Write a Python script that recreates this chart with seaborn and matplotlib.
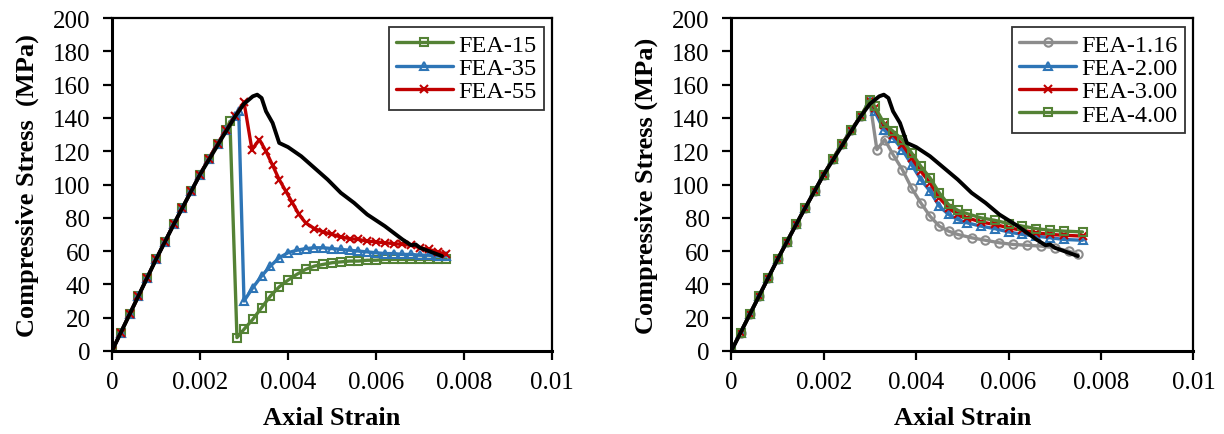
import numpy as np
import pandas as pd
import seaborn as sns
import matplotlib.pyplot as plt

# ---- data ----
# experimental curve (black, shared by both panels)
exp_strain = [0, 0.0005, 0.001, 0.0015, 0.002, 0.0025, 0.0028, 0.003, 0.0032, 0.0033,
              0.0034, 0.0035, 0.00365, 0.0038, 0.004, 0.0043, 0.0046, 0.0049, 0.0052,
              0.0055, 0.0058, 0.0062, 0.0066, 0.0068, 0.0069, 0.0070, 0.0072, 0.0075]
exp_stress = [0, 27.5, 55, 81, 106, 128, 141, 148.5, 153, 154,
              152, 144, 137, 125, 122.5, 117, 110, 103, 95,
              89, 82, 75, 67, 63.5, 64, 62, 60, 57]

# common FEA ascending branch
asc_strain = [0, 0.0002, 0.0004, 0.0006, 0.0008, 0.001, 0.0012, 0.0014, 0.0016, 0.0018,
              0.002, 0.0022, 0.0024, 0.0026]
asc_stress = [0, 11, 22, 33, 44, 55, 65.5, 76, 86, 96,
              106, 115.5, 124.5, 133]

# left panel: FEA-15 / FEA-35 / FEA-55
fea15_strain = asc_strain + [0.00268, 0.00284, 0.003, 0.0032, 0.0034, 0.0036, 0.0038, 0.004,
                             0.0042, 0.0044, 0.0046, 0.0048, 0.005, 0.0052, 0.0054, 0.0056,
                             0.0058, 0.006, 0.0062, 0.0064, 0.0066, 0.0068, 0.007, 0.0072,
                             0.0074, 0.0076]
fea15_stress = asc_stress + [138, 8, 13, 19, 26, 33, 38.5, 42.5,
                             46, 49, 51, 52, 53, 53.5, 54, 54,
                             54.5, 54.5, 55, 55, 55, 55, 55, 55,
                             55, 55]

fea35_strain = asc_strain + [0.0028, 0.00288, 0.003, 0.0032, 0.0034, 0.0036, 0.0038, 0.004,
                             0.0042, 0.0044, 0.0046, 0.0048, 0.005, 0.0052, 0.0054, 0.0056,
                             0.0058, 0.006, 0.0062, 0.0064, 0.0066, 0.0068, 0.007, 0.0072,
                             0.0074, 0.0076]
fea35_stress = asc_stress + [141, 144, 30, 38, 45, 51, 56, 59,
                             60.5, 61.5, 62, 62, 61.5, 61, 60.5, 60,
                             59.5, 59, 58.5, 58.5, 58, 58, 57.5, 57.5,
                             57, 57]

fea55_strain = asc_strain + [0.0028, 0.003, 0.00318, 0.00335, 0.0035, 0.00365, 0.0038, 0.00395,
                             0.0041, 0.00425, 0.0044, 0.0046, 0.0048, 0.005, 0.0052, 0.0054,
                             0.0056, 0.0058, 0.006, 0.0062, 0.0064, 0.0066, 0.0068, 0.007,
                             0.0072, 0.0074, 0.0076]
fea55_stress = asc_stress + [141, 149.5, 121, 127, 120, 111.5, 103, 96,
                             89, 82, 77, 73.5, 71.5, 70, 68.5, 67.5,
                             67, 66, 65.5, 65, 64.5, 64, 63.5, 62,
                             61, 59.5, 58]

# right panel: FEA-1.16 / 2.00 / 3.00 / 4.00
tail_strain = [0.0028, 0.003, 0.0031, 0.0033, 0.0035, 0.0037, 0.0039, 0.0041, 0.0043, 0.0045,
               0.0047, 0.0049, 0.0051, 0.0054, 0.0057, 0.006, 0.0063, 0.0066, 0.0069,
               0.0072, 0.0076]
fea400_stress = asc_stress + [141, 151, 147, 137, 132, 127, 119, 111, 104, 95,
                              88, 84.5, 82.5, 80, 78.5, 76.5, 75, 73.5, 72.5,
                              72, 71.5]
fea300_stress = asc_stress + [141, 150, 146, 136, 130, 124, 116, 108, 101, 92,
                              86, 82, 80, 77.5, 76, 74, 72.5, 71, 70,
                              69.5, 69]
fea200_stress = asc_stress + [141, 150, 144, 133, 128, 121, 112, 103, 96, 87,
                              82, 79, 77, 75, 73.5, 71.5, 70, 69, 68,
                              67, 66.5]
fea116_strain = asc_strain + [0.0028, 0.003, 0.00315, 0.00332, 0.0035, 0.0037, 0.0039, 0.0041,
                              0.0043, 0.0045, 0.0047, 0.0049, 0.0052, 0.0055, 0.0058, 0.0061,
                              0.0064, 0.0067, 0.007, 0.0073, 0.0075]
fea116_stress = asc_stress + [141, 149.5, 121, 127, 118, 109, 98, 89,
                              81, 75, 72, 70, 68, 66.5, 65, 64,
                              63.5, 63, 62, 60, 58]

left_labels = ["FEA-15", "FEA-35", "FEA-55"]
right_labels = ["FEA-1.16", "FEA-2.00", "FEA-3.00", "FEA-4.00"]
x_ticks = [0, 0.002, 0.004, 0.006, 0.008, 0.01]
y_ticks = [0, 20, 40, 60, 80, 100, 120, 140, 160, 180, 200]

GREEN, BLUE, RED, GRAY = "#548235", "#2E75B6", "#C00000", "#8C8C8C"

sns.set_style("ticks")
plt.rcParams['font.family'] = ['Liberation Serif', 'DejaVu Serif']
plt.rcParams['text.color'] = 'black'
plt.rcParams['axes.labelcolor'] = 'black'

fig = plt.figure(figsize=(12.24, 4.35), dpi=100)
ax1 = fig.add_axes([0.0915, 0.191, 0.3595, 0.765])
ax2 = fig.add_axes([0.5975, 0.191, 0.3775, 0.765])


def draw(ax, x, y, label, color, marker, filled):
    df = pd.DataFrame({"x": x, "y": y})
    sns.lineplot(data=df, x="x", y="y", ax=ax, sort=False, estimator=None,
                 color=color, lw=2.4, marker=marker, ms=6, mew=1.5,
                 mfc=(color if filled else "none"), mec=color, label=label)


draw(ax1, fea15_strain, fea15_stress, left_labels[0], GREEN, "s", False)
draw(ax1, fea35_strain, fea35_stress, left_labels[1], BLUE, "^", False)
draw(ax1, fea55_strain, fea55_stress, left_labels[2], RED, "x", True)

draw(ax2, fea116_strain, fea116_stress, right_labels[0], GRAY, "o", False)
draw(ax2, asc_strain + tail_strain, fea200_stress, right_labels[1], BLUE, "^", False)
draw(ax2, asc_strain + tail_strain, fea300_stress, right_labels[2], RED, "x", True)
draw(ax2, asc_strain + tail_strain, fea400_stress, right_labels[3], GREEN, "s", False)

for ax, ylab in [(ax1, "Compressive Stress  (MPa)"), (ax2, "Compressive Stress (MPa)")]:
    ax.plot(exp_strain, exp_stress, color="black", lw=2.8, zorder=5)
    ax.set_xlim(0, 0.01)
    ax.set_ylim(0, 200)
    ax.set_xticks(x_ticks)
    ax.set_xticklabels(["{:g}".format(t) for t in x_ticks])
    ax.set_yticks(y_ticks)
    ax.set_xlabel("Axial Strain", fontsize=19, fontweight="bold", labelpad=9)
    ax.set_ylabel(ylab, fontsize=19, fontweight="bold", labelpad=10)
    ax.tick_params(axis="both", direction="out", length=6.5, width=1.6,
                   labelsize=18, colors="black")
    ax.tick_params(axis="x", pad=8)
    ax.tick_params(axis="y", pad=9)
    for s in ax.spines.values():
        s.set_visible(True)
        s.set_color("black")
        s.set_linewidth(1.6)
    ax.spines["left"].set_linewidth(2.2)
    ax.spines["bottom"].set_linewidth(2.2)
    leg = ax.legend(loc="upper right", fontsize=17.5, frameon=True, fancybox=False,
                    edgecolor="black", handlelength=2.35, borderaxespad=0.35,
                    labelspacing=0.05, borderpad=0.3, handletextpad=0.2)
    leg.get_frame().set_linewidth(1.3)

fig.savefig("out.png", dpi=100)
